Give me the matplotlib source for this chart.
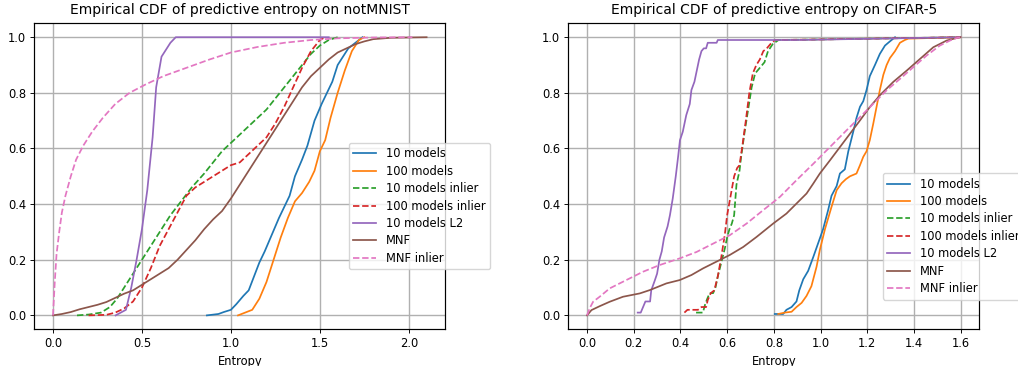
import matplotlib
matplotlib.use("Agg")
import matplotlib.pyplot as plt

labels = ["10 models", "100 models", "10 models inlier", "100 models inlier",
          "10 models L2", "MNF", "MNF inlier"]
colors = ["#1f77b4", "#ff7f0e", "#2ca02c", "#d62728", "#9467bd", "#8c564b", "#e377c2"]
styles = ["-", "-", "--", "--", "-", "-", "--"]

# ---- notMNIST ----
nm_10_x = [0.865, 0.93, 0.96, 1.0, 1.03, 1.07, 1.1, 1.13, 1.16, 1.19, 1.23, 1.27, 1.3, 1.33, 1.36, 1.4, 1.43, 1.47, 1.51, 1.54, 1.57, 1.6, 1.63, 1.66, 1.7, 1.74]
nm_10_y = [0.0, 0.005, 0.012, 0.02, 0.04, 0.07, 0.09, 0.14, 0.19, 0.23, 0.29, 0.35, 0.39, 0.43, 0.5, 0.56, 0.61, 0.7, 0.76, 0.8, 0.84, 0.9, 0.93, 0.96, 0.98, 1.0]
nm_100_x = [1.04, 1.08, 1.12, 1.16, 1.2, 1.24, 1.28, 1.32, 1.36, 1.4, 1.44, 1.47, 1.5, 1.53, 1.56, 1.6, 1.64, 1.68, 1.72, 1.75]
nm_100_y = [0.0, 0.01, 0.02, 0.06, 0.12, 0.2, 0.28, 0.35, 0.41, 0.44, 0.48, 0.52, 0.59, 0.63, 0.71, 0.8, 0.88, 0.95, 0.99, 1.0]
nm_10in_x = [0.135, 0.2, 0.27, 0.32, 0.36, 0.4, 0.45, 0.5, 0.55, 0.6, 0.66, 0.72, 0.78, 0.85, 0.9, 0.95, 1.0, 1.05, 1.1, 1.15, 1.2, 1.25, 1.3, 1.35, 1.4, 1.45, 1.5, 1.55, 1.6]
nm_10in_y = [0.0, 0.003, 0.01, 0.03, 0.06, 0.1, 0.15, 0.2, 0.25, 0.3, 0.36, 0.41, 0.46, 0.51, 0.55, 0.59, 0.62, 0.65, 0.68, 0.71, 0.74, 0.78, 0.82, 0.86, 0.9, 0.94, 0.97, 0.99, 1.0]
nm_100in_x = [0.2, 0.3, 0.35, 0.4, 0.45, 0.5, 0.55, 0.6, 0.65, 0.7, 0.75, 0.8, 0.85, 0.9, 0.95, 1.0, 1.05, 1.1, 1.15, 1.2, 1.25, 1.3, 1.35, 1.4, 1.45, 1.5, 1.53]
nm_100in_y = [0.0, 0.002, 0.01, 0.025, 0.05, 0.1, 0.17, 0.25, 0.31, 0.37, 0.43, 0.46, 0.48, 0.5, 0.52, 0.54, 0.55, 0.58, 0.61, 0.64, 0.69, 0.75, 0.82, 0.89, 0.95, 0.99, 1.0]
nm_l2_x = [0.352, 0.41, 0.44, 0.47, 0.5, 0.53, 0.56, 0.58, 0.61, 0.66, 0.69, 1.55]
nm_l2_y = [0.0, 0.02, 0.1, 0.2, 0.31, 0.45, 0.64, 0.82, 0.93, 0.98, 1.0, 1.0]
nm_mnf_x = [0.0, 0.05, 0.1, 0.15, 0.2, 0.25, 0.3, 0.35, 0.4, 0.45, 0.5, 0.55, 0.6, 0.65, 0.7, 0.75, 0.8, 0.85, 0.9, 0.95, 1.0, 1.05, 1.1, 1.15, 1.2, 1.25, 1.3, 1.35, 1.4, 1.45, 1.5, 1.55, 1.6, 1.65, 1.7, 1.75, 1.8, 1.9, 2.1]
nm_mnf_y = [0.0, 0.005, 0.012, 0.022, 0.03, 0.038, 0.048, 0.063, 0.078, 0.09, 0.11, 0.13, 0.15, 0.17, 0.2, 0.235, 0.27, 0.31, 0.345, 0.375, 0.42, 0.47, 0.52, 0.57, 0.62, 0.67, 0.72, 0.77, 0.82, 0.86, 0.89, 0.92, 0.945, 0.96, 0.975, 0.985, 0.993, 0.998, 1.0]
nm_mnfin_x = [0.0, 0.01, 0.02, 0.035, 0.05, 0.07, 0.1, 0.13, 0.17, 0.22, 0.28, 0.35, 0.43, 0.52, 0.62, 0.75, 0.88, 1.0, 1.15, 1.3, 1.45, 1.6, 1.8, 2.02]
nm_mnfin_y = [0.0, 0.12, 0.22, 0.3, 0.37, 0.43, 0.5, 0.56, 0.61, 0.66, 0.71, 0.76, 0.8, 0.83, 0.86, 0.89, 0.92, 0.945, 0.965, 0.98, 0.99, 0.996, 0.999, 1.0]

# ---- CIFAR-5 ----
cf_10_x = [0.804, 0.84, 0.854, 0.876, 0.897, 0.909, 0.926, 0.947, 0.969, 0.99, 1.011, 1.033, 1.047, 1.069, 1.083, 1.097, 1.104, 1.119, 1.14, 1.154, 1.169, 1.183, 1.197, 1.211, 1.233, 1.254, 1.276, 1.297, 1.319]
cf_10_y = [0.005, 0.005, 0.02, 0.03, 0.05, 0.09, 0.13, 0.16, 0.21, 0.26, 0.31, 0.38, 0.43, 0.465, 0.51, 0.52, 0.525, 0.59, 0.66, 0.71, 0.75, 0.77, 0.81, 0.86, 0.9, 0.94, 0.97, 0.985, 1.0]
cf_100_x = [0.819, 0.847, 0.876, 0.897, 0.919, 0.94, 0.961, 0.983, 0.997, 1.019, 1.047, 1.069, 1.09, 1.109, 1.126, 1.154, 1.169, 1.183, 1.197, 1.211, 1.226, 1.24, 1.254, 1.269, 1.283, 1.297, 1.319, 1.34, 1.361, 1.376, 1.6]
cf_100_y = [0.005, 0.01, 0.013, 0.03, 0.045, 0.07, 0.105, 0.175, 0.235, 0.31, 0.39, 0.45, 0.475, 0.49, 0.5, 0.51, 0.54, 0.57, 0.59, 0.63, 0.69, 0.75, 0.81, 0.865, 0.9, 0.925, 0.95, 0.98, 0.99, 0.995, 1.0]
cf_10in_x = [0.467, 0.496, 0.506, 0.515, 0.525, 0.54, 0.55, 0.56, 0.575, 0.59, 0.6, 0.61, 0.62, 0.63, 0.64, 0.653, 0.66, 0.675, 0.69, 0.705, 0.72, 0.74, 0.76, 0.775, 0.795, 0.82, 1.0, 1.6]
cf_10in_y = [0.01, 0.01, 0.04, 0.06, 0.08, 0.08, 0.1, 0.14, 0.19, 0.24, 0.28, 0.31, 0.33, 0.36, 0.47, 0.52, 0.57, 0.66, 0.74, 0.82, 0.87, 0.89, 0.91, 0.95, 0.975, 0.99, 0.992, 1.0]
cf_100in_x = [0.417, 0.43, 0.475, 0.49, 0.51, 0.517, 0.53, 0.545, 0.56, 0.575, 0.59, 0.6, 0.615, 0.63, 0.643, 0.653, 0.667, 0.68, 0.695, 0.71, 0.725, 0.74, 0.755, 0.77, 0.79, 0.805, 1.0, 1.6]
cf_100in_y = [0.01, 0.02, 0.02, 0.03, 0.03, 0.055, 0.08, 0.09, 0.14, 0.21, 0.29, 0.36, 0.43, 0.5, 0.53, 0.54, 0.62, 0.7, 0.8, 0.87, 0.9, 0.92, 0.95, 0.96, 0.98, 0.99, 0.992, 1.0]
cf_l2_x = [0.217, 0.23, 0.24, 0.25, 0.27, 0.275, 0.29, 0.3, 0.31, 0.32, 0.33, 0.345, 0.355, 0.367, 0.38, 0.39, 0.398, 0.41, 0.425, 0.44, 0.447, 0.46, 0.47, 0.48, 0.49, 0.5, 0.51, 0.517, 0.555, 0.56, 0.9, 1.6]
cf_l2_y = [0.01, 0.01, 0.03, 0.05, 0.05, 0.09, 0.125, 0.15, 0.2, 0.23, 0.28, 0.32, 0.36, 0.42, 0.5, 0.57, 0.63, 0.66, 0.72, 0.76, 0.81, 0.84, 0.88, 0.92, 0.95, 0.96, 0.96, 0.98, 0.98, 0.99, 0.99, 1.0]
cf_mnf_x = [0.0, 0.019, 0.054, 0.097, 0.154, 0.226, 0.269, 0.34, 0.397, 0.447, 0.497, 0.554, 0.611, 0.669, 0.726, 0.797, 0.854, 0.897, 0.94, 0.969, 0.997, 1.04, 1.083, 1.126, 1.169, 1.211, 1.254, 1.311, 1.369, 1.426, 1.483, 1.54, 1.597]
cf_mnf_y = [0.0, 0.019, 0.033, 0.049, 0.067, 0.079, 0.091, 0.115, 0.127, 0.145, 0.169, 0.193, 0.217, 0.246, 0.282, 0.33, 0.366, 0.402, 0.438, 0.474, 0.51, 0.557, 0.605, 0.653, 0.701, 0.749, 0.791, 0.839, 0.88, 0.922, 0.964, 0.988, 1.0]
cf_mnfin_x = [0.0, 0.011, 0.026, 0.054, 0.097, 0.154, 0.24, 0.311, 0.397, 0.469, 0.54, 0.611, 0.683, 0.754, 0.826, 0.897, 0.969, 1.04, 1.111, 1.169, 1.226, 1.283, 1.34, 1.397, 1.454, 1.511, 1.569, 1.597]
cf_mnfin_y = [0.0, 0.025, 0.049, 0.067, 0.097, 0.121, 0.157, 0.181, 0.205, 0.228, 0.258, 0.288, 0.33, 0.378, 0.426, 0.486, 0.545, 0.605, 0.665, 0.713, 0.761, 0.809, 0.85, 0.892, 0.934, 0.97, 0.994, 1.0]

s = 0.83
plt.rcParams.update({
    "font.size": 10 * s,
    "axes.titlesize": 12 * s,
    "axes.linewidth": 0.8 * s + 0.2,
    "xtick.major.size": 3.5 * s,
    "ytick.major.size": 3.5 * s,
    "xtick.major.pad": 3.5 * s,
    "ytick.major.pad": 3.5 * s,
    "xtick.major.width": 0.8 * s,
    "ytick.major.width": 0.8 * s,
    "axes.titlepad": 6 * s + 1.5,
    "axes.labelpad": 4 * s,
    "legend.framealpha": 0.8,
    "legend.labelspacing": 0.38,
})

panels = [
    ("Empirical CDF of predictive entropy on notMNIST",
     [(nm_10_x, nm_10_y), (nm_100_x, nm_100_y), (nm_10in_x, nm_10in_y), (nm_100in_x, nm_100in_y),
      (nm_l2_x, nm_l2_y), (nm_mnf_x, nm_mnf_y), (nm_mnfin_x, nm_mnfin_y)],
     [0.0337, 0.1003, 0.4037, 0.836], (0.765, 0.196)),
    ("Empirical CDF of predictive entropy on CIFAR-5",
     [(cf_10_x, cf_10_y), (cf_100_x, cf_100_y), (cf_10in_x, cf_10in_y), (cf_100in_x, cf_100in_y),
      (cf_l2_x, cf_l2_y), (cf_mnf_x, cf_mnf_y), (cf_mnfin_x, cf_mnfin_y)],
     [0.5583, 0.1003, 0.4037, 0.836], (0.765, 0.097)),
]

fig = plt.figure(figsize=(10.18, 3.66), dpi=100)
for title, series, rect, anchor in panels:
    ax = fig.add_axes(rect)
    for (xs, ys), lab, c, ls in zip(series, labels, colors, styles):
        ax.plot(xs, ys, color=c, linestyle=ls, linewidth=1.5 * s, label=lab)
    ax.grid(True, color="#b0b0b0", linewidth=1.0)
    ax.set_axisbelow(True)
    ax.set_title(title)
    ax.set_xlabel("Entropy")
    ax.legend(loc="lower left", bbox_to_anchor=anchor, borderaxespad=0.0)

fig.savefig("out.png", dpi=100)
